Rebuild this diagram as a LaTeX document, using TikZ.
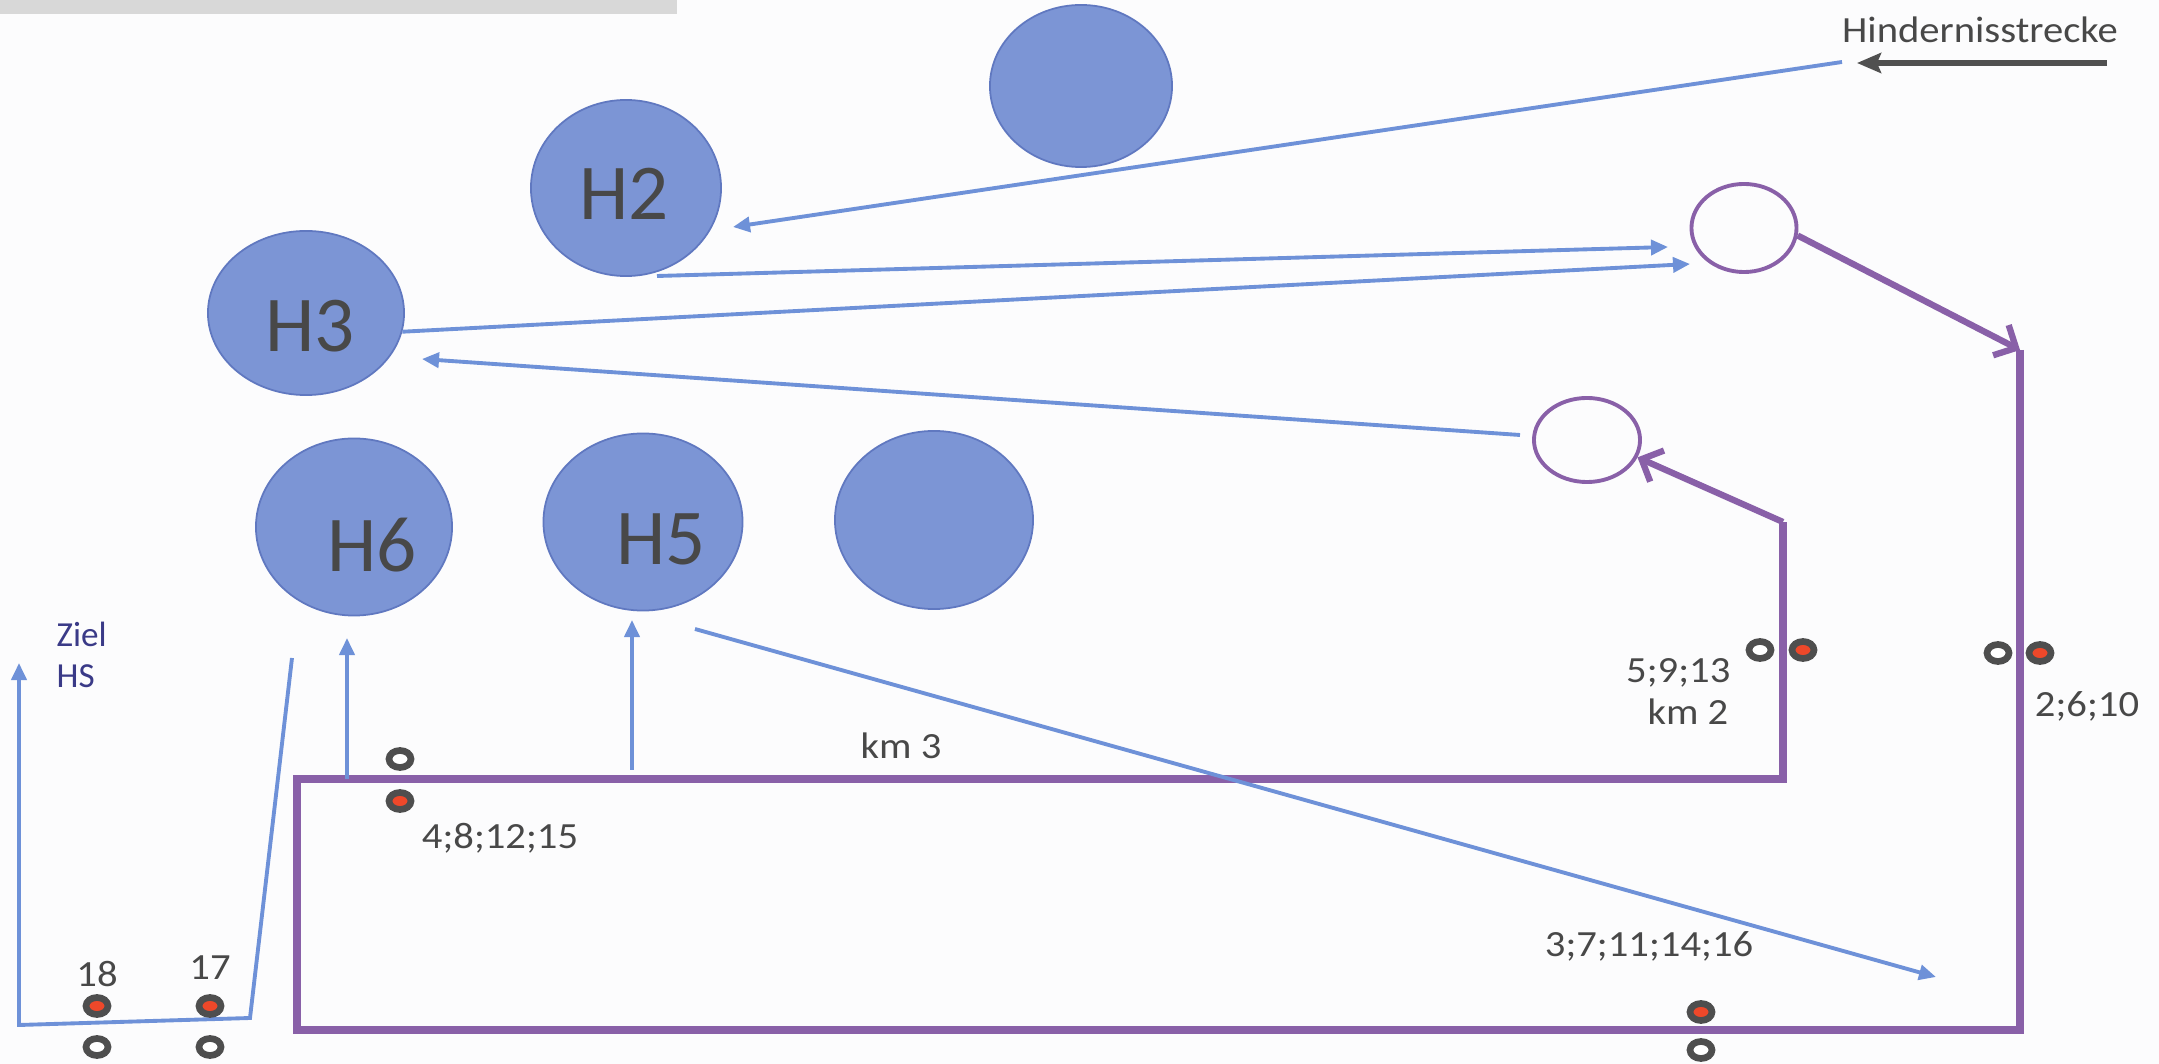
\documentclass[tikz,border=0pt]{standalone}
\usepackage{fontspec}
\setmainfont{Carlito}
\newfontfamily\lblfont{Carlito}[FakeStretch=1.1]
\usetikzlibrary{arrows.meta,shapes.geometric}
\definecolor{hfill}{RGB}{124,149,213}
\definecolor{hdraw}{RGB}{96,120,192}
\definecolor{lineblue}{RGB}{110,145,216}
\definecolor{trackpurple}{RGB}{137,96,168}
\definecolor{txtgray}{RGB}{72,72,72}
\definecolor{zielcol}{RGB}{58,58,135}
\definecolor{markred}{RGB}{238,72,42}
\definecolor{markgray}{RGB}{78,78,78}
\definecolor{bargray}{RGB}{216,216,216}
\definecolor{darkarrow}{RGB}{80,80,80}
\definecolor{bgcol}{RGB}{252,252,253}
\begin{document}
\begin{tikzpicture}[x=0.01cm,y=-0.01cm,
  obstacle/.style={ellipse, fill=hfill, draw=hdraw, line width=0.5pt, inner sep=0pt},
  gate/.style={ellipse, draw=trackpurple, line width=1.1pt, inner sep=0pt},
  hlabel/.style={anchor=base, text=txtgray, inner sep=0pt, font=\fontsize{22.5pt}{26pt}\selectfont},
  numlbl/.style={anchor=base, text=txtgray, inner sep=0pt, font=\lblfont\fontsize{10.5pt}{12pt}\selectfont},
  ziellbl/.style={anchor=base west, text=zielcol, inner sep=0pt, font=\fontsize{10pt}{12pt}\selectfont},
  ringmark/.style={ellipse, draw=markgray, line width=1.9pt, minimum width=0.22cm, minimum height=0.17cm, inner sep=0pt, fill=white},
  redmark/.style={ringmark, fill=markred},
  bluearrow/.style={draw=lineblue, line width=1.1pt, -{Triangle[length=0.17cm,width=0.15cm]}},
  track/.style={draw=trackpurple, line width=2.5pt, line join=miter},
  trackarrow/.style={draw=trackpurple, line width=1.8pt, -{Straight Barb[length=0.17cm,width=0.34cm]}},
  signarrow/.style={draw=darkarrow, line width=1.8pt, -{Stealth[length=0.24cm,width=0.2cm,inset=0.04cm]}}
]
\useasboundingbox (0,0) rectangle (2159,1064);
\fill[bgcol] (0,0) rectangle (2159,1064);
\fill[bargray] (0,0) rectangle (677,14);

% obstacles
\node[obstacle, minimum width=1.82cm, minimum height=1.62cm] (o1) at (1081,86) {};
\node[obstacle, minimum width=1.90cm, minimum height=1.76cm] (h2) at (626,188) {};
\node[obstacle, minimum width=1.96cm, minimum height=1.64cm] (h3) at (306,313) {};
\node[obstacle, minimum width=1.96cm, minimum height=1.77cm] (h6) at (354,527) {};
\node[obstacle, minimum width=1.99cm, minimum height=1.77cm] (h5) at (643,522) {};
\node[obstacle, minimum width=1.98cm, minimum height=1.78cm] (o2) at (934,520) {};
\node[hlabel] (h2t) at (624,220) {H2};
\node[hlabel] (h3t) at (310,352) {H3};
\node[hlabel] (h6t) at (372,572) {H6};
\node[hlabel] (h5t) at (661,565) {H5};

% gates
\node[gate, minimum width=1.05cm, minimum height=0.88cm] (g1) at (1744,228) {};
\node[gate, minimum width=1.06cm, minimum height=0.84cm] (g2) at (1587,440) {};

% track
\coordinate (t0) at (2020,350);
\coordinate (t1) at (2020,1030);
\coordinate (t2) at (297,1030);
\coordinate (t3) at (297,779);
\coordinate (t4) at (1783,779);
\coordinate (t5) at (1783,522);
\draw[track] (t0) -- (t1) -- (t2) -- (t3) -- (t4) -- (t5);
\draw[trackarrow] (g1.-8) -- (t0);
\draw[trackarrow] (t5) -- (g2.-19);

% sign arrow
\coordinate (sgs) at (2107,63);
\coordinate (sge) at (1857,63);
\draw[signarrow] (sgs) -- (sge);
\node[numlbl] (hsl) at (1980,43) {Hindernisstrecke};

% blue arrows
\coordinate (a1s) at (1842,62);
\coordinate (a1e) at (733,227);
\draw[bluearrow] (a1s) -- (a1e);
\coordinate (a2s) at (657,276);
\coordinate (a2e) at (1668,247);
\draw[bluearrow] (a2s) -- (a2e);
\coordinate (a3e) at (1690,264);
\draw[bluearrow] (h3.-11.5) -- (a3e);
\coordinate (a4s) at (1520,435);
\coordinate (a4e) at (422,359);
\draw[bluearrow] (a4s) -- (a4e);
\coordinate (a5s) at (347,779);
\coordinate (a5e) at (347,638);
\draw[bluearrow] (a5s) -- (a5e);
\coordinate (a6s) at (632,770);
\coordinate (a6e) at (632,620);
\draw[bluearrow] (a6s) -- (a6e);
\coordinate (a7s) at (695,629);
\coordinate (a7e) at (1936,977);
\draw[bluearrow] (a7s) -- (a7e);
\coordinate (zs) at (292,658);
\coordinate (zb1) at (250,1018);
\coordinate (zb2) at (19,1025);
\coordinate (zt) at (19,663);
\draw[bluearrow] (zs) -- (zb1) -- (zb2) -- (zt);
\node[ziellbl] (zl1) at (56,647) {Ziel};
\node[ziellbl] (zl2) at (56,688) {HS};

% markers
\node[redmark] (m18r) at (97,1006) {};
\node[ringmark] (m18o) at (97,1047) {};
\node[redmark] (m17r) at (210,1006) {};
\node[ringmark] (m17o) at (210,1047) {};
\node[ringmark] (m4o) at (400,759) {};
\node[redmark] (m4r) at (400,801) {};
\node[ringmark] (m5o) at (1760,650) {};
\node[redmark] (m5r) at (1803,650) {};
\node[ringmark] (m2o) at (1998,653) {};
\node[redmark] (m2r) at (2040,653) {};
\node[redmark] (m3r) at (1701,1012) {};
\node[ringmark] (m3o) at (1701,1050) {};

% labels
\node[numlbl] (l18) at (97,987) {18};
\node[numlbl] (l17) at (210,980) {17};
\node[numlbl] (l4) at (500,849) {4;8;12;15};
\node[numlbl] (lkm3) at (901,759) {km 3};
\node[numlbl, anchor=base east] (l5) at (1731,683) {5;9;13};
\node[numlbl, anchor=base east] (lkm2) at (1729,725) {km 2};
\node[numlbl] (l2) at (2087,717) {2;6;10};
\node[numlbl] (l3) at (1649,957) {3;7;11;14;16};
\end{tikzpicture}
\end{document}
